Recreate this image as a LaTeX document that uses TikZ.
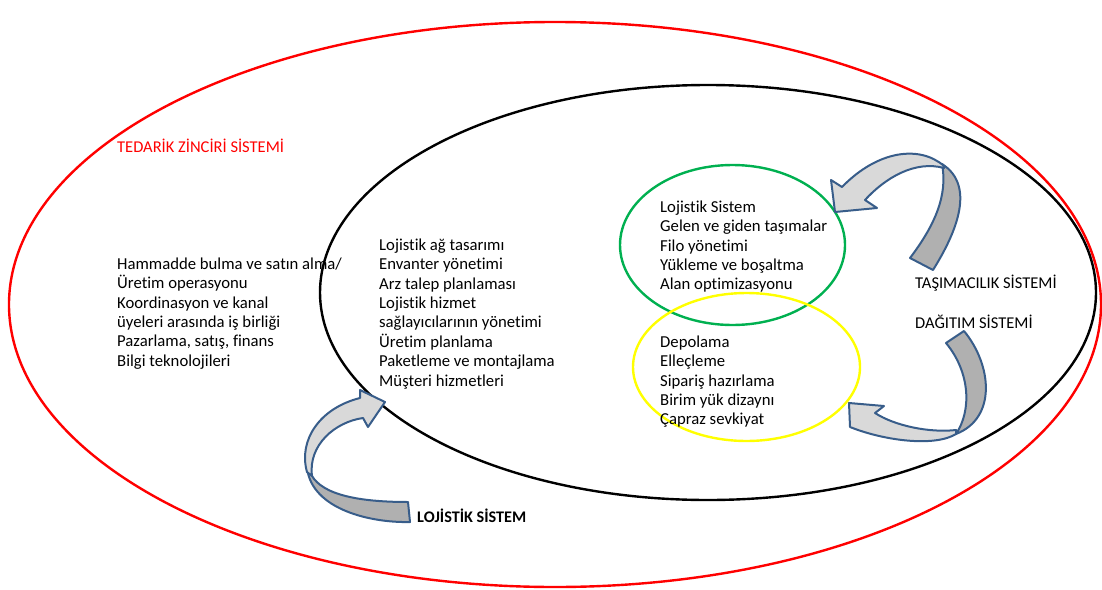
\documentclass[tikz,border=0pt]{standalone}
\usepackage{fontspec}
\setmainfont{Carlito}[Ligatures=NoCommon]
\definecolor{chainred}{RGB}{255,0,0}
\definecolor{logigreen}{RGB}{0,176,80}
\definecolor{depoyellow}{RGB}{255,255,0}
\definecolor{arrowedge}{RGB}{56,93,138}
\definecolor{arrowlight}{RGB}{217,217,217}
\definecolor{arrowdark}{RGB}{176,176,176}
\tikzset{
  listtext/.style={align=left, anchor=north west, inner sep=0pt,
    font=\fontsize{16.7}{19.4}\selectfont},
  systitle/.style={anchor=base west, inner sep=0pt,
    font=\fontsize{16.5}{18}\selectfont},
  bandlight/.style={fill=arrowlight, draw=arrowedge, line width=2pt, line join=round},
  banddark/.style={fill=arrowdark, draw=arrowedge, line width=2pt, line join=round}
}
\begin{document}
\begin{tikzpicture}[x=1pt, y=-1pt]
  \useasboundingbox (0,0) rectangle (1102,589);

  % systems
  \draw[chainred, line width=2.4pt] (555,304.5) ellipse [x radius=546, y radius=282.5];
  \draw[black, line width=2.4pt] (708,292.5) ellipse [x radius=388, y radius=207.5];
  \draw[logigreen, line width=2.4pt] (732.5,245) ellipse [x radius=112.5, y radius=80];
  \draw[depoyellow, line width=2.4pt] (746.5,367) ellipse [x radius=113.5, y radius=74];

  % curved arrows
  \draw[banddark] (910,258) -- (933,270) .. controls (958,230) and (975,185) .. (942,164)
    .. controls (948,195) and (935,225) .. (910,258) -- cycle;
  \draw[bandlight] (944,166) .. controls (920,145) and (878,150) .. (842,187)
    -- (831,180) -- (835,212) -- (877,208) -- (865,200)
    .. controls (885,178) and (915,160) .. (944,168) -- cycle;

  \draw[banddark] (946,343) -- (964,331) .. controls (992,365) and (997,418) .. (956,434)
    .. controls (972,410) and (970,372) .. (946,343) -- cycle;
  \draw[bandlight] (956,434) .. controls (935,447) and (885,441) .. (850,427)
    -- (849,403) -- (884,406) -- (875,413)
    .. controls (895,426) and (930,433) .. (956,430) -- cycle;

  \draw[banddark] (310,472) .. controls (318,492) and (350,502) .. (408,502) -- (410,522)
    .. controls (372,523) and (312,510) .. (307,468) -- cycle;
  \draw[bandlight] (307,472) .. controls (298,440) and (320,408) .. (360,398)
    -- (360,390) -- (385,402) -- (368,427) -- (363,418)
    .. controls (335,422) and (308,445) .. (312,476) -- cycle;

  % texts
  \node[systitle, text=chainred] (tedarik) at (117,152) {TEDARİK ZİNCİRİ SİSTEMİ};
  \node[systitle] (tasima) at (915,288) {TAŞIMACILIK SİSTEMİ};
  \node[systitle] (dagitim) at (915,328) {DAĞITIM SİSTEMİ};
  \node[systitle, font=\fontsize{16.2}{18}\selectfont\bfseries] (lojistik) at (417,522) {LOJİSTİK SİSTEM};

  \node[listtext] (chainlist) at (117,257.5) {Hammadde bulma ve satın alma/\\Üretim operasyonu\\Koordinasyon ve kanal\\üyeleri arasında iş birliği\\Pazarlama, satış, finans\\Bilgi teknolojileri};
  \node[listtext] (logilist) at (379,238.5) {Lojistik ağ tasarımı\\Envanter yönetimi\\Arz talep planlaması\\Lojistik hizmet\\sağlayıcılarının yönetimi\\Üretim planlama\\Paketleme ve montajlama\\Müşteri hizmetleri};
  \node[listtext] (tasimalist) at (660,200.5) {Lojistik Sistem\\Gelen ve giden taşımalar\\Filo yönetimi\\Yükleme ve boşaltma\\Alan optimizasyonu};
  \node[listtext] (depolist) at (660,335.5) {Depolama\\Elleçleme\\Sipariş hazırlama\\Birim yük dizaynı\\Çapraz sevkiyat};
\end{tikzpicture}
\end{document}
